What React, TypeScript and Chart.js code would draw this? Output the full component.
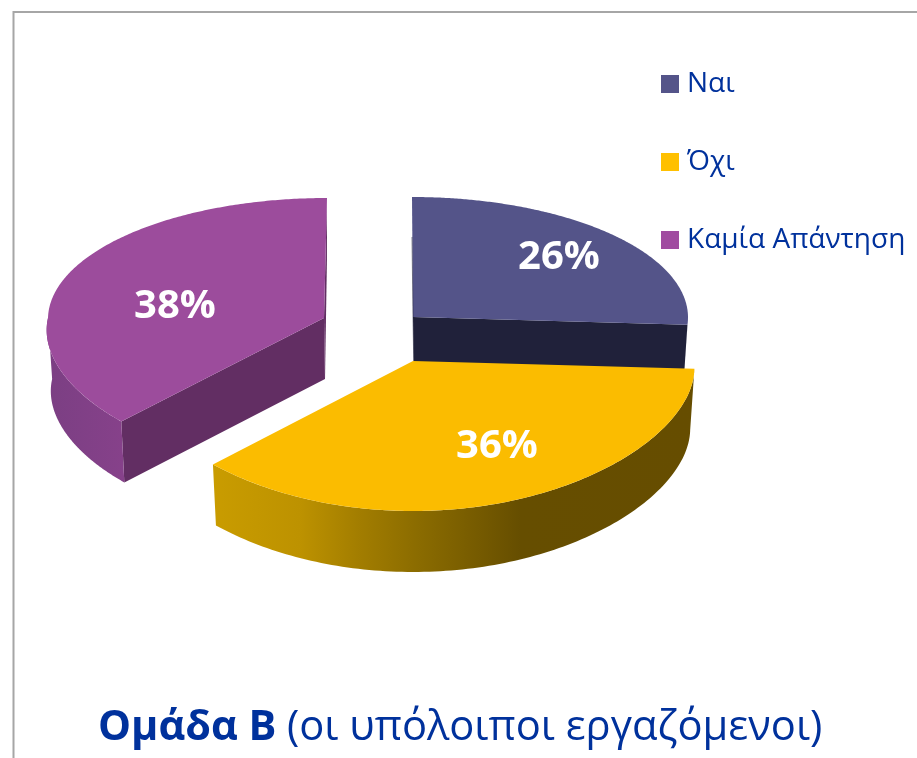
import React, { useEffect, useRef } from "react";
import { Chart, registerables } from "chart.js";

Chart.register(...registerables);

const categories = ["Ναι", "Όχι", "Καμία Απάντηση"];
const values = [26, 36, 38];
const legendColors = ["#545489", "#FFC000", "#A04CA0"];
const topColors = ["#545489", "#FBBC00", "#9C4C9C"];
const cutColors = ["#20213A", "#664D00", "#622E63"];
const titleBold = "Ομάδα Β";
const titleRegular = "(οι υπόλοιποι εργαζόμενοι)";

const W = 917;
const H = 758;
const FONT = '"Open Sans"';
const NAVY = "#00319C";
const DEPTH = 61;
const BOTTOM_SCALE = 0.985;
const RY_UP = 120;
const RY_LOW = 150;

// one layout entry per slice: where the exploded slice sits on the page
const sliceLayout = [
  { cx: 413, cy: 317, rx: 275, skew: -1, wide: 0, lx: 559, ly: 258 },
  { cx: 413, cy: 361, rx: 281, skew: 0, wide: 0.055, lx: 497, ly: 447 },
  { cx: 324, cy: 318, rx: 276, skew: 3, wide: 0.1, lx: 175, ly: 307 },
];

const pt = (l: any, a: number, s = 1, dy = 0) => {
  const sn = Math.sin(a);
  const ry = sn > 0 ? RY_UP + (RY_LOW - RY_UP) * sn : RY_UP;
  const wide = sn > 0 ? 1 + l.wide * sn : 1;
  return {
    x: l.cx + (l.rx * Math.cos(a) * wide + (sn < 0 ? -sn * l.skew : 0)) * s,
    y: l.cy + sn * ry + dy,
  };
};

const pie3d = {
  id: "pie3d",
  beforeDraw(chart: any) {
    const { ctx } = chart;
    ctx.save();
    ctx.fillStyle = "#FFFFFF";
    ctx.fillRect(0, 0, W, H);
    ctx.strokeStyle = "#A6A6A6";
    ctx.lineWidth = 2;
    ctx.beginPath();
    ctx.moveTo(13.5, H);
    ctx.lineTo(13.5, 12);
    ctx.lineTo(W, 12);
    ctx.stroke();
    ctx.restore();
  },
  afterLayout(chart: any) {
    const lg = chart.legend;
    const p = lg.options.labels.padding;
    lg.left = 667 - p;
    lg.top = 70 - p;
    lg.adjustHitBoxes();
  },
  beforeDatasetsDraw(chart: any) {
    const { ctx } = chart;
    const arcs = chart.getDatasetMeta(0).data;
    const wall = (i: number) => {
      const l = sliceLayout[i];
      const from = Math.max(arcs[i].startAngle, 0);
      const to = Math.min(arcs[i].endAngle, Math.PI);
      if (to <= from) return;
      const n = 120;
      const g = ctx.createLinearGradient(0, 0, W, 0);
      if (i === 1) {
        const stops: [number, string][] = [
          [213, "#C99C00"], [300, "#BD9200"], [360, "#A27D00"], [420, "#8A6B00"],
          [480, "#755A00"], [520, "#664E00"], [695, "#664D00"],
        ];
        stops.forEach(([x, c]) => g.addColorStop(x / W, c));
      } else if (i === 2) {
        g.addColorStop(47 / W, "#7B3F83");
        g.addColorStop(122 / W, "#86418A");
      } else {
        g.addColorStop(0, cutColors[i]);
        g.addColorStop(1, cutColors[i]);
      }
      ctx.fillStyle = g;
      ctx.beginPath();
      for (let k = 0; k <= n; k++) {
        const p = pt(l, from + ((to - from) * k) / n);
        k ? ctx.lineTo(p.x, p.y) : ctx.moveTo(p.x, p.y);
      }
      for (let k = n; k >= 0; k--) {
        const p = pt(l, from + ((to - from) * k) / n, BOTTOM_SCALE, DEPTH);
        ctx.lineTo(p.x, p.y);
      }
      ctx.closePath();
      ctx.fill();
    };
    const cut = (i: number, a: number) => {
      const l = sliceLayout[i];
      const p = pt(l, a);
      const q = pt(l, a, BOTTOM_SCALE, DEPTH);
      ctx.fillStyle = cutColors[i];
      ctx.beginPath();
      ctx.moveTo(l.cx, l.cy);
      ctx.lineTo(p.x, p.y);
      ctx.lineTo(q.x, q.y);
      ctx.lineTo(l.cx + 1, l.cy + DEPTH);
      ctx.closePath();
      ctx.fill();
    };
    const top = (i: number) => {
      const l = sliceLayout[i];
      const n = 240;
      const { startAngle: a0, endAngle: a1 } = arcs[i];
      ctx.fillStyle = topColors[i];
      ctx.beginPath();
      ctx.moveTo(l.cx, l.cy);
      for (let k = 0; k <= n; k++) {
        const p = pt(l, a0 + ((a1 - a0) * k) / n);
        ctx.lineTo(p.x, p.y);
      }
      ctx.closePath();
      ctx.fill();
    };
    ctx.save();
    // back to front: Ναι, Καμία Απάντηση, Όχι
    cut(0, arcs[0].endAngle);
    wall(0);
    top(0);
    const n0 = sliceLayout[0];
    const nTop = pt(n0, arcs[0].startAngle);
    ctx.strokeStyle = "rgba(32,33,58,0.55)";
    ctx.lineWidth = 1;
    ctx.beginPath();
    ctx.moveTo(nTop.x, nTop.y + 40);
    ctx.lineTo(n0.cx, n0.cy);
    ctx.lineTo(n0.cx + 1, n0.cy + DEPTH);
    ctx.stroke();
    cut(2, arcs[2].endAngle);
    cut(2, arcs[2].startAngle);
    wall(2);
    top(2);
    wall(1);
    top(1);
    ctx.restore();
    return false;
  },
  afterDraw(chart: any) {
    const { ctx } = chart;
    ctx.save();
    ctx.fillStyle = "#FFFFFF";
    ctx.font = `bold 40px ${FONT}`;
    ctx.textAlign = "center";
    ctx.textBaseline = "middle";
    values.forEach((v, i) => ctx.fillText(`${v}%`, sliceLayout[i].lx, sliceLayout[i].ly));
    ctx.fillStyle = NAVY;
    ctx.textAlign = "left";
    ctx.textBaseline = "alphabetic";
    ctx.font = `bold 41.5px ${FONT}`;
    ctx.fillText(titleBold, 98, 740);
    ctx.font = `41.7px ${FONT}`;
    ctx.fillText(titleRegular, 287, 740);
    ctx.restore();
  },
};

export default function App() {
  const ref = useRef<HTMLCanvasElement>(null);
  useEffect(() => {
    document.body.style.margin = "0";
    document.body.style.overflow = "hidden";
    const chart = new Chart(ref.current!, {
      type: "pie",
      data: {
        labels: categories,
        datasets: [{ data: values, backgroundColor: topColors, borderWidth: 0 }],
      },
      options: {
        responsive: false,
        animation: false,
        events: [],
        plugins: {
          tooltip: { enabled: false },
          legend: {
            position: "right",
            align: "start",
            labels: {
              color: NAVY,
              font: { family: FONT, size: 28 },
              boxWidth: 6,
              boxHeight: 6,
              padding: 50,
              generateLabels: () =>
                categories.map((text, i) => ({
                  text,
                  fillStyle: legendColors[i],
                  strokeStyle: legendColors[i],
                  lineWidth: 12,
                  fontColor: NAVY,
                  index: i,
                })),
            },
          },
        },
      } as any,
      plugins: [pie3d as any],
    });
    return () => chart.destroy();
  }, []);
  return <canvas ref={ref} width={W} height={H} style={{ display: "block" }} />;
}
